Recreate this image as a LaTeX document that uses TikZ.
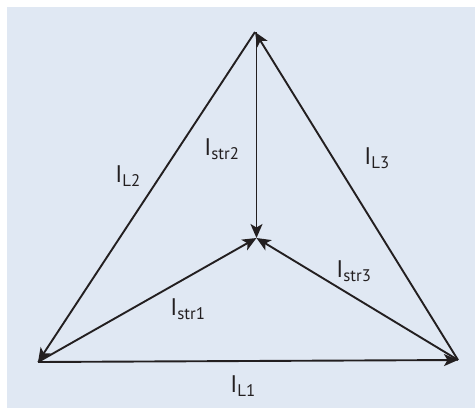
\documentclass[tikz,border=0pt]{standalone}
\usepackage{fontspec}
\setmainfont{PT Sans}
\usetikzlibrary{arrows.meta}
\definecolor{bgblue}{RGB}{224,232,243}
\definecolor{ink}{RGB}{35,31,32}
\begin{document}
\begin{tikzpicture}[x=1pt,y=-1pt,
  vec/.style={draw=ink,line width=1.9pt,-{Stealth[length=14pt,width=12pt,inset=3.5pt]}},
  lbl/.style={text=ink,font=\fontsize{24}{27}\selectfont,inner sep=0pt}]
\useasboundingbox (0,0) rectangle (475,408);
\fill[bgblue] (7,7) rectangle (475,408);
\coordinate (T) at (255,32);
\coordinate (BL) at (38,362);
\coordinate (BR) at (458,360);
\coordinate (C) at (256.5,238);
\coordinate (Tv) at (256.5,32);
\draw[vec] (BL) -- (BR);
\draw[vec] (T) -- (BL);
\draw[vec] (BR) -- (T);
\draw[vec] (Tv) -- (C);
\draw[vec] (BL) -- (C);
\draw[vec] (BR) -- (C);
\node[lbl] (l2) at (128,176) {I\textsubscript{L2}};
\node[lbl] (s2) at (222,149) {I\textsubscript{str2}};
\node[lbl] (l3) at (377,158) {I\textsubscript{L3}};
\node[lbl] (s3) at (354,271) {I\textsubscript{str3}};
\node[lbl] (s1) at (188,309) {I\textsubscript{str1}};
\node[lbl] (l1) at (243,386) {I\textsubscript{L1}};
\end{tikzpicture}
\end{document}
